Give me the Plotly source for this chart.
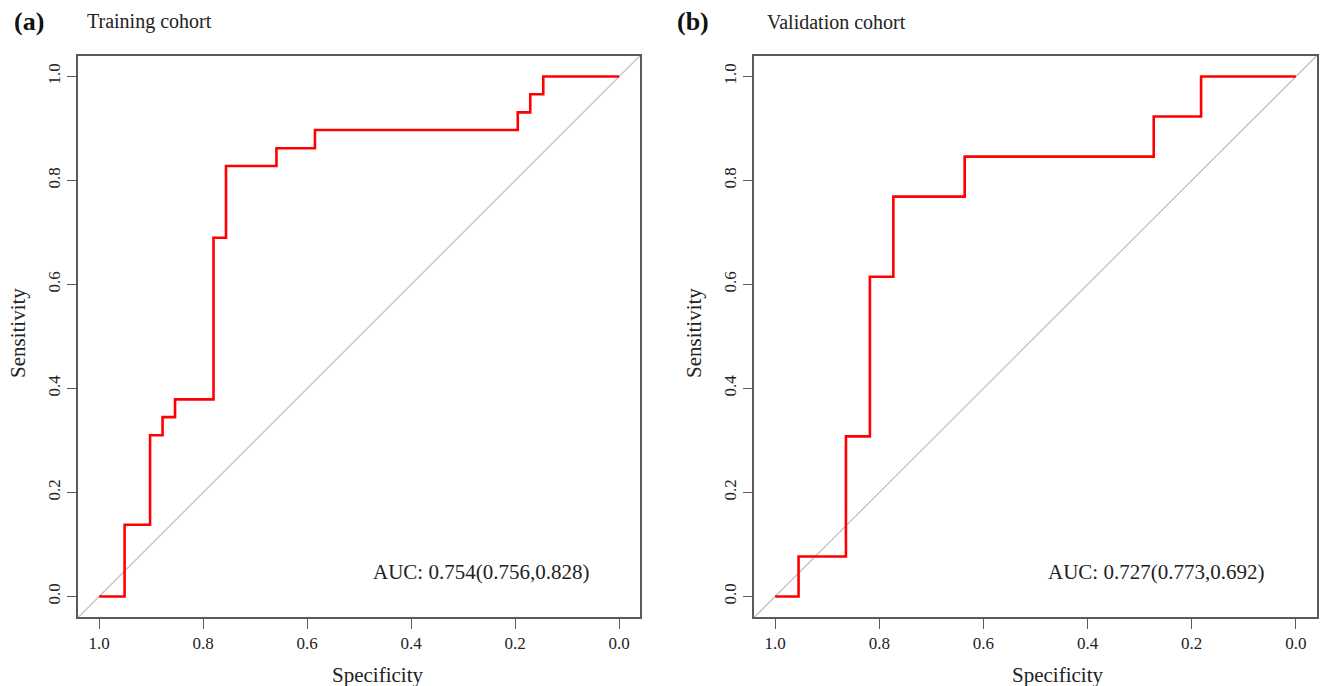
import plotly.graph_objects as go

# ---- data ----
train_spec = [1.0, 0.951, 0.902, 0.878, 0.854, 0.780, 0.756, 0.659, 0.585, 0.195, 0.171, 0.146, 0.0]
train_sens = [0.0, 0.138, 0.310, 0.345, 0.379, 0.690, 0.828, 0.862, 0.897, 0.931, 0.966, 1.0, 1.0]

valid_spec = [1.0, 0.955, 0.864, 0.818, 0.773, 0.636, 0.273, 0.182, 0.0]
valid_sens = [0.0, 0.077, 0.308, 0.615, 0.769, 0.846, 0.923, 1.0, 1.0]

tick_vals = [0.0, 0.2, 0.4, 0.6, 0.8, 1.0]
tick_text = ["0.0", "0.2", "0.4", "0.6", "0.8", "1.0"]

panel_tags = ["(a)", "(b)"]
panel_titles = ["Training cohort", "Validation cohort"]
auc_labels = ["AUC: 0.754(0.756,0.828)", "AUC: 0.727(0.773,0.692)"]

X_RANGE = [1.04, -0.04]
Y_RANGE = [-0.04, 1.04]

FONT = "Liberation Serif"
AXC = "#5a5a5a"

fig = go.Figure()

fig.add_trace(go.Scatter(x=train_spec, y=train_sens, mode="lines", line=dict(color="#ff0000", width=2.6, shape="hv"),
                         xaxis="x", yaxis="y", showlegend=False, hoverinfo="skip"))
fig.add_trace(go.Scatter(x=valid_spec, y=valid_sens, mode="lines", line=dict(color="#ff0000", width=2.6, shape="hv"),
                         xaxis="x2", yaxis="y2", showlegend=False, hoverinfo="skip"))

ax_common = dict(showgrid=False, zeroline=False, showline=True, linecolor=AXC, linewidth=1.5, mirror=True,
                 ticks="outside", ticklen=10, tickwidth=1.3, tickcolor=AXC,
                 tickvals=tick_vals, ticktext=tick_text,
                 tickfont=dict(family=FONT, size=17, color="#222"))

ydom = [1 - 617.3 / 686, 1 - 55.7 / 686]
fig.update_layout(
    width=1325, height=686,
    margin=dict(l=0, r=0, t=0, b=0),
    paper_bgcolor="white", plot_bgcolor="white",
    xaxis=dict(domain=[78.3 / 1325, 640 / 1325], range=X_RANGE, anchor="y", **ax_common),
    yaxis=dict(domain=ydom, range=Y_RANGE, anchor="x", tickangle=-90, **ax_common),
    xaxis2=dict(domain=[754.3 / 1325, 1316.7 / 1325], range=X_RANGE, anchor="y2", **ax_common),
    yaxis2=dict(domain=ydom, range=Y_RANGE, anchor="x2", tickangle=-90, **ax_common),
)

shapes = []
for xr, yr in [("x", "y"), ("x2", "y2")]:
    shapes.append(dict(type="line", xref=xr, yref=yr, x0=X_RANGE[0], y0=1 - X_RANGE[0],
                       x1=X_RANGE[1], y1=1 - X_RANGE[1], line=dict(color="#bdbdbd", width=1.2), layer="below"))
fig.update_layout(shapes=shapes)

ann = []
# panel tags and titles
tag_x = [12 / 1325, 675 / 1325]
title_x = [85 / 1325, 765 / 1325]
for i in range(2):
    ann.append(dict(text="<b>%s</b>" % panel_tags[i], xref="paper", yref="paper", x=tag_x[i], y=1 - 22 / 686,
                    xanchor="left", yanchor="middle", showarrow=False, font=dict(family=FONT, size=26, color="#111")))
    ann.append(dict(text=panel_titles[i], xref="paper", yref="paper", x=title_x[i], y=1 - 22 / 686,
                    xanchor="left", yanchor="middle", showarrow=False, font=dict(family=FONT, size=20, color="#222")))
# axis titles
spec_x = [377 / 1325, 1057 / 1325]
sens_x = [18 / 1325, 694 / 1325]
for i in range(2):
    ann.append(dict(text="Specificity", xref="paper", yref="paper", x=spec_x[i], y=1 - 675 / 686,
                    xanchor="center", yanchor="middle", showarrow=False, font=dict(family=FONT, size=21, color="#222")))
    ann.append(dict(text="Sensitivity", xref="paper", yref="paper", x=sens_x[i], y=1 - 333 / 686,
                    xanchor="center", yanchor="middle", textangle=-90, showarrow=False,
                    font=dict(family=FONT, size=21, color="#222")))
# AUC labels
auc_pos = [(0.265, 0.048, "x", "y"), (0.269, 0.048, "x2", "y2")]
for i, (ax, ay, xr, yr) in enumerate(auc_pos):
    ann.append(dict(text=auc_labels[i], xref=xr, yref=yr, x=ax, y=ay, xanchor="center", yanchor="middle",
                    showarrow=False, font=dict(family=FONT, size=21, color="#222")))
fig.update_layout(annotations=ann)

fig.write_html("out.html")
